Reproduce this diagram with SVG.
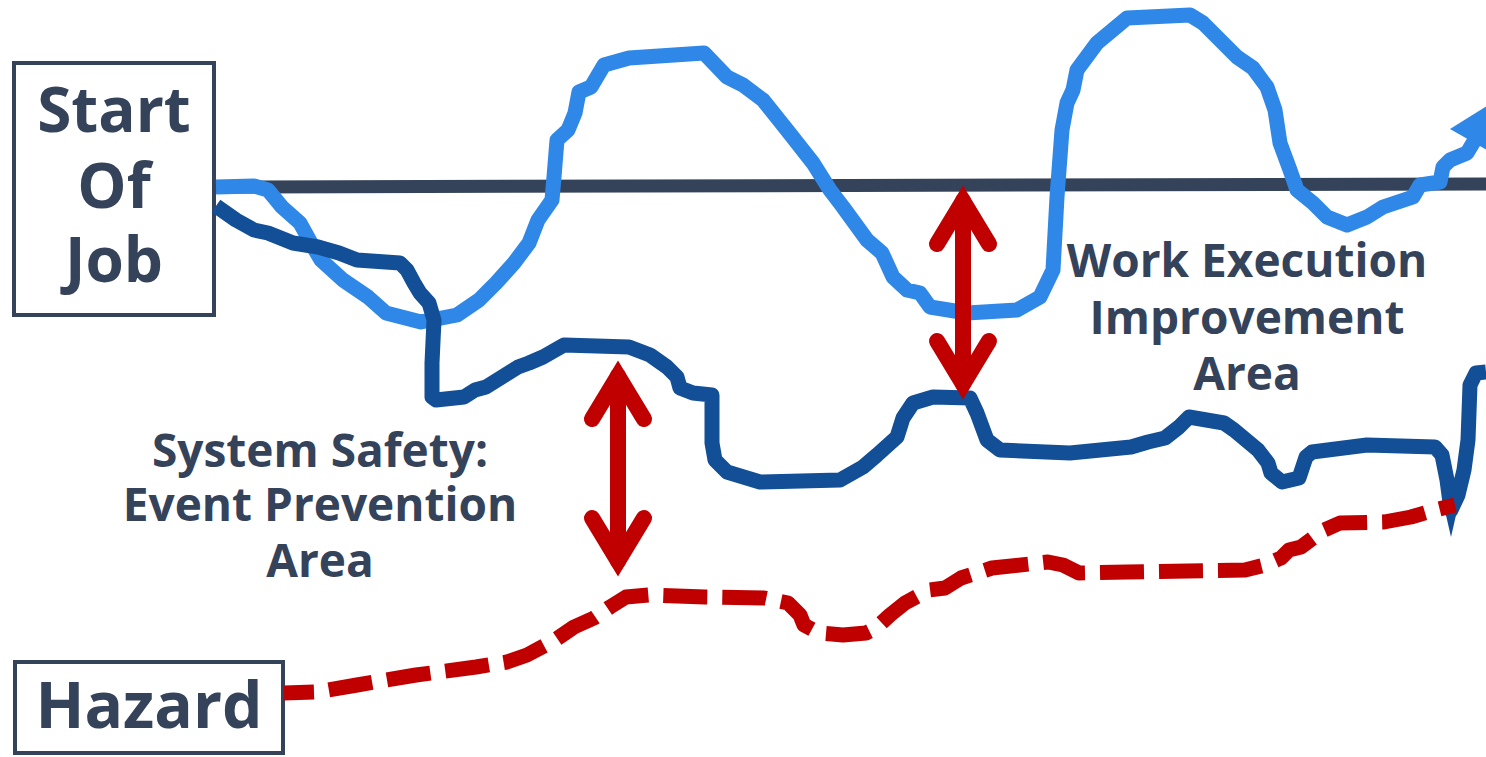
<svg xmlns="http://www.w3.org/2000/svg" width="1486" height="757" viewBox="0 0 1486 757">
<style>
.box{fill:#ffffff;stroke:#34425a;stroke-width:4}
.t{font-family:"Open Sans","Liberation Sans",sans-serif;font-weight:700;fill:#34425a;text-anchor:middle}
.big{font-size:62px}
.lbl{font-size:46px}
.ln{fill:none;stroke-linejoin:round}
.arr{fill:none;stroke:#c00000;stroke-width:16;stroke-linecap:round;stroke-linejoin:miter;stroke-miterlimit:6}
</style>
<rect width="1486" height="757" fill="#ffffff"/>
<g id="label-system-safety">
<text class="t lbl" x="320" y="467">System Safety:</text>
<text class="t lbl" x="320" y="521">Event Prevention</text>
<text class="t lbl" x="320" y="577">Area</text>
</g>
<g id="label-work-execution">
<text class="t lbl" x="1247" y="277">Work Execution</text>
<text class="t lbl" x="1247" y="334">Improvement</text>
<text class="t lbl" x="1247" y="390">Area</text>
</g>
<g id="start-of-job">
<rect class="box" x="14" y="63" width="200" height="252"/>
<text class="t big" x="114" y="132">Start</text>
<text class="t big" x="114" y="208">Of</text>
<text class="t big" x="114" y="282">Job</text>
</g>
<g id="hazard">
<rect class="box" x="15" y="662" width="268" height="91"/>
<text class="t" style="font-size:64px" x="149" y="728">Hazard</text>
</g>
<g id="connectors">
<path class="ln" stroke="#34425a" stroke-width="13" d="M216,187 L1486,184"/>
<path class="ln" stroke="#2f88e8" stroke-width="15" d="M216,187 L254,186 L268,190 L282,207 L300,223 L311,243 L321,260 L343,280 L368,297 L386,313 L421,322 L457,315 L479,300 L496,283 L514,263 L529,243 L538,220 L552,200 L554,177 L557,140 L568,130 L575,113 L579,92 L591,87 L604,65 L629,58 L704,53 L727,77 L743,85 L763,100 L787,130 L813,163 L830,190 L843,207 L867,240 L882,253 L893,277 L907,290 L920,293 L930,307 L967,313 L1017,310 L1040,297 L1053,270 L1057,197 L1062,130 L1067,103 L1073,90 L1077,70 L1097,43 L1127,18 L1190,15 L1203,23 L1237,57 L1253,68 L1267,87 L1275,110 L1280,143 L1290,170 L1297,190 L1313,203 L1327,217 L1347,225 L1367,217 L1383,207 L1413,197 L1420,185 L1440,182 L1443,167 L1450,160 L1467,153 L1473,143 L1478,136"/>
<polygon fill="#2f88e8" points="1450,129 1506,94 1492,153"/>
<path class="ln" stroke="#124f96" stroke-width="15" d="M216,206 L236,220 L254,230 L268,233 L293,243 L318,247 L339,253 L357,260 L400,263 L407,270 L414,283 L420,293 L429,303 L434,320 L432,363 L432,397 L436,400 L464,397 L475,390 L486,387 L518,367 L529,363 L543,357 L564,345 L629,347 L650,355 L667,367 L677,377 L680,388 L693,393 L712,395 L712,443 L715,460 L727,472 L760,482 L840,480 L863,467 L877,455 L897,437 L903,418 L913,403 L933,397 L970,398 L977,413 L987,440 L1000,450 L1070,453 L1131,447 L1148,442 L1165,438 L1179,427 L1189,417 L1224,423 L1234,430 L1258,450 L1268,463 L1271,473 L1282,482 L1299,478 L1306,457 L1312,452 L1367,445 L1435,447 L1442,455 L1447,480 L1451,510 L1458,495 L1464,470 L1468,440 L1470,385 L1476,373 L1486,372"/>
<polygon fill="#124f96" points="1443,502 1459,502 1451,537"/>
<path class="ln" stroke="#c00000" stroke-width="15" stroke-dasharray="44 15" stroke-dashoffset="14" d="M284,693 L317,692 L357,685 L416,675 L476,667 L507,662 L527,655 L555,640 L574,627 L594,618 L610,607 L626,597 L649,595 L705,597 L764,598 L788,603 L800,615 L804,625 L819,633 L843,635 L866,633 L876,628 L890,615 L905,603 L929,590 L945,588 L961,578 L992,568 L1048,562 L1063,565 L1079,573 L1127,572 L1245,570 L1265,565 L1281,558 L1289,550 L1301,547 L1324,530 L1340,523 L1384,522 L1411,517 L1435,510 L1455,505"/>
<g id="arrow-system-safety">
<path class="arr" d="M618,376 L618,561"/>
<path class="arr" d="M592,419 L618,376 L644,419"/>
<path class="arr" d="M592,518 L618,561 L644,518"/>
</g>
<g id="arrow-work-execution">
<path class="arr" d="M963,201 L963,384"/>
<path class="arr" d="M937,244 L963,201 L989,244"/>
<path class="arr" d="M937,341 L963,384 L989,341"/>
</g>
</g>
</svg>
